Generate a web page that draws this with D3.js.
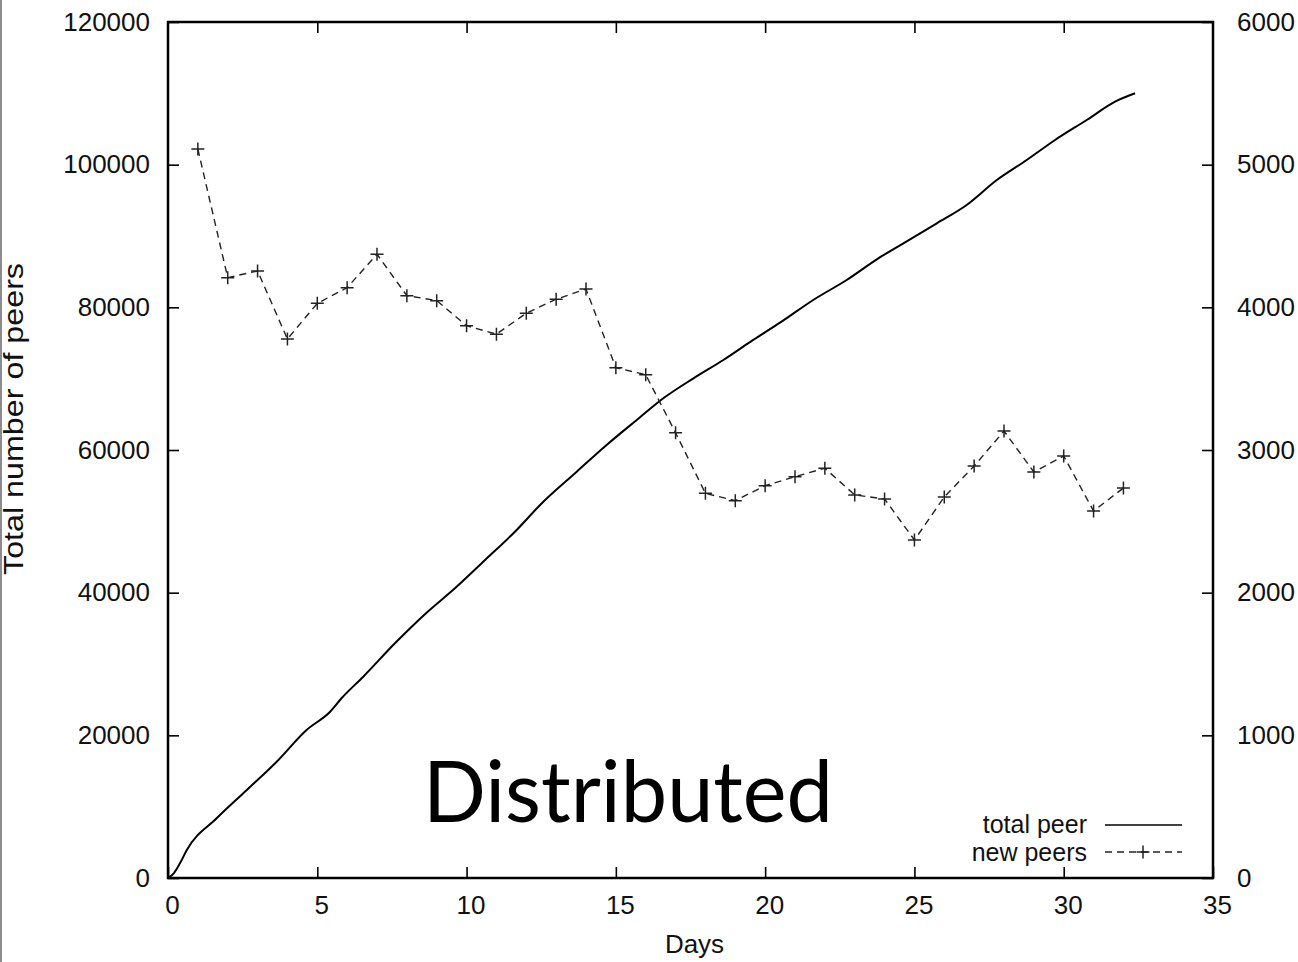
<!DOCTYPE html>
<html>
<head>
<meta charset="utf-8">
<script src="https://cdn.jsdelivr.net/npm/d3@7"></script>
<style>
  body { margin: 0; background: #fff; }
  text { font-family: "Liberation Sans", Arial, sans-serif; fill: #111; }
</style>
</head>
<body>
<div id="div_peers"></div>
<script>
// total peer (left axis)
var total_days = [0, 0.2, 0.4, 0.63, 1.63, 2.64, 3.64, 4.64, 5.43, 5.82, 6.54, 7.6, 8.66, 9.61,
  10.62, 11.62, 12.57, 13.69, 14.69, 15.7, 16.59, 17.6, 18.6, 19.6, 20.55, 21.61, 22.73,
  23.79, 24.63, 25.75, 26.75, 27.76, 28.76, 29.71, 30.77, 31.72, 32.39];
var total_peers = [0, 700, 2060, 3930, 8370, 12340, 16300, 20750, 23310, 25230, 28220, 32900,
  37190, 40610, 44580, 48550, 52750, 56960, 60700, 64210, 67250, 70050, 72620, 75430, 77990,
  81030, 83830, 86870, 88980, 91780, 94350, 97850, 100650, 103460, 106260, 108830, 110010];

// new peers per day (right axis)
var new_days = [1, 2, 3, 4, 5, 6, 7, 8, 9, 10, 11, 12, 13, 14, 15, 16, 17, 18, 19, 20, 21, 22,
  23, 24, 25, 26, 27, 28, 29, 30, 31, 32];
var new_peers = [5110, 4208, 4255, 3778, 4028, 4138, 4372, 4082, 4047, 3871, 3812, 3959, 4057,
  4128, 3577, 3528, 3121, 2696, 2645, 2750, 2813, 2872, 2685, 2657, 2369, 2671, 2888, 3133,
  2846, 2958, 2572, 2734];

var x_ticks = [0, 5, 10, 15, 20, 25, 30, 35];
var y_ticks = [0, 20000, 40000, 60000, 80000, 100000, 120000];
var y2_ticks = [0, 1000, 2000, 3000, 4000, 5000, 6000];

var width = 1298, height = 962;
var margin = { left: 168, right: 1213, top: 22, bottom: 878 };

var svg = d3.select("#div_peers").append("svg")
  .attr("width", width)
  .attr("height", height);

var x = d3.scaleLinear().domain([0, 35]).range([margin.left, margin.right]);
var y = d3.scaleLinear().domain([0, 120000]).range([margin.bottom, margin.top]);
var y2 = d3.scaleLinear().domain([0, 6000]).range([margin.bottom, margin.top]);

// page edge line
svg.append("line")
  .attr("x1", 1).attr("x2", 1)
  .attr("y1", 0).attr("y2", height)
  .style("stroke", "#666")
  .style("stroke-width", 1.5);

// axes, ticks pointing inward
var xAxis = d3.axisBottom(x).tickValues(x_ticks).tickSizeInner(-11).tickSizeOuter(0).tickPadding(17.5);
var xTop = d3.axisTop(x).tickValues(x_ticks.slice(1, -1)).tickSizeInner(-11).tickSizeOuter(0).tickFormat("");
var yAxis = d3.axisLeft(y).tickValues(y_ticks).tickSizeInner(-11).tickSizeOuter(0).tickPadding(18)
  .tickFormat(d3.format("d"));
var y2Axis = d3.axisRight(y2).tickValues(y2_ticks).tickSizeInner(-11).tickSizeOuter(0).tickPadding(24)
  .tickFormat(d3.format("d"));

var gx = svg.append("g").attr("transform", "translate(0," + margin.bottom + ")").call(xAxis);
gx.selectAll("text").attr("dx", 4);
svg.append("g").attr("transform", "translate(0," + margin.top + ")").call(xTop);
svg.append("g").attr("transform", "translate(" + margin.left + ",0)").call(yAxis);
svg.append("g").attr("transform", "translate(" + margin.right + ",0)").call(y2Axis);

svg.selectAll(".domain").remove();
svg.selectAll(".tick line").style("stroke", "#000").style("stroke-width", 1.6);
svg.selectAll(".tick text")
  .style("font-family", "'Liberation Sans', Arial, sans-serif")
  .style("font-size", "26px")
  .style("fill", "#111");

// frame
svg.append("rect")
  .attr("x", margin.left).attr("y", margin.top)
  .attr("width", margin.right - margin.left).attr("height", margin.bottom - margin.top)
  .style("fill", "none")
  .style("stroke", "#000")
  .style("stroke-width", 2.5);

// axis titles
svg.append("text")
  .attr("x", x(17.5) + 4).attr("y", 953)
  .attr("text-anchor", "middle")
  .style("font-size", "26px")
  .text("Days");

svg.append("text")
  .attr("transform", "translate(23,419) rotate(-90)")
  .attr("text-anchor", "middle")
  .attr("textLength", 312)
  .attr("lengthAdjust", "spacingAndGlyphs")
  .style("font-size", "27px")
  .text("Total number of peers");

// total peer line
var total_data = total_days.map(function(d, i) { return [d, total_peers[i]]; });
svg.append("path")
  .datum(total_data)
  .attr("d", d3.line()
    .x(function(d) { return x(d[0]); })
    .y(function(d) { return y(d[1]); })
    .curve(d3.curveMonotoneX))
  .style("fill", "none")
  .style("stroke", "#000")
  .style("stroke-width", 2);

// new peers dashed line + markers
var new_data = new_days.map(function(d, i) { return [d, new_peers[i]]; });
svg.append("path")
  .datum(new_data)
  .attr("d", d3.line()
    .x(function(d) { return x(d[0]); })
    .y(function(d) { return y2(d[1]); }))
  .style("fill", "none")
  .style("stroke", "#222")
  .style("stroke-width", 1.4)
  .style("stroke-dasharray", "7,5");

var plus = "M-6.5,0H6.5M0,-6.5V6.5";
svg.selectAll(".pt")
  .data(new_data)
  .enter().append("path")
  .attr("class", "pt")
  .attr("d", plus)
  .attr("transform", function(d) { return "translate(" + x(d[0]) + "," + y2(d[1]) + ")"; })
  .style("fill", "none")
  .style("stroke", "#222")
  .style("stroke-width", 1.5);

// big label
svg.append("text")
  .attr("x", 628).attr("y", 822)
  .attr("text-anchor", "middle")
  .attr("textLength", 410)
  .attr("lengthAdjust", "spacingAndGlyphs")
  .style("font-family", "Lato, 'Open Sans', sans-serif")
  .style("font-size", "85px")
  .style("fill", "#000")
  .text("Distributed");

// legend
var legend = svg.append("g");
legend.append("text")
  .attr("x", 1087).attr("y", 833)
  .attr("text-anchor", "end")
  .style("font-size", "25px")
  .text("total peer");
legend.append("text")
  .attr("x", 1087).attr("y", 861)
  .attr("text-anchor", "end")
  .style("font-size", "25px")
  .text("new peers");
legend.append("line")
  .attr("x1", 1105).attr("x2", 1182)
  .attr("y1", 825).attr("y2", 825)
  .style("stroke", "#000")
  .style("stroke-width", 1.5);
legend.append("line")
  .attr("x1", 1105).attr("x2", 1182)
  .attr("y1", 852).attr("y2", 852)
  .style("stroke", "#222")
  .style("stroke-width", 1.4)
  .style("stroke-dasharray", "7,5");
legend.append("path")
  .attr("d", plus)
  .attr("transform", "translate(1143,852)")
  .style("fill", "none")
  .style("stroke", "#222")
  .style("stroke-width", 1.5);
</script>
</body>
</html>
